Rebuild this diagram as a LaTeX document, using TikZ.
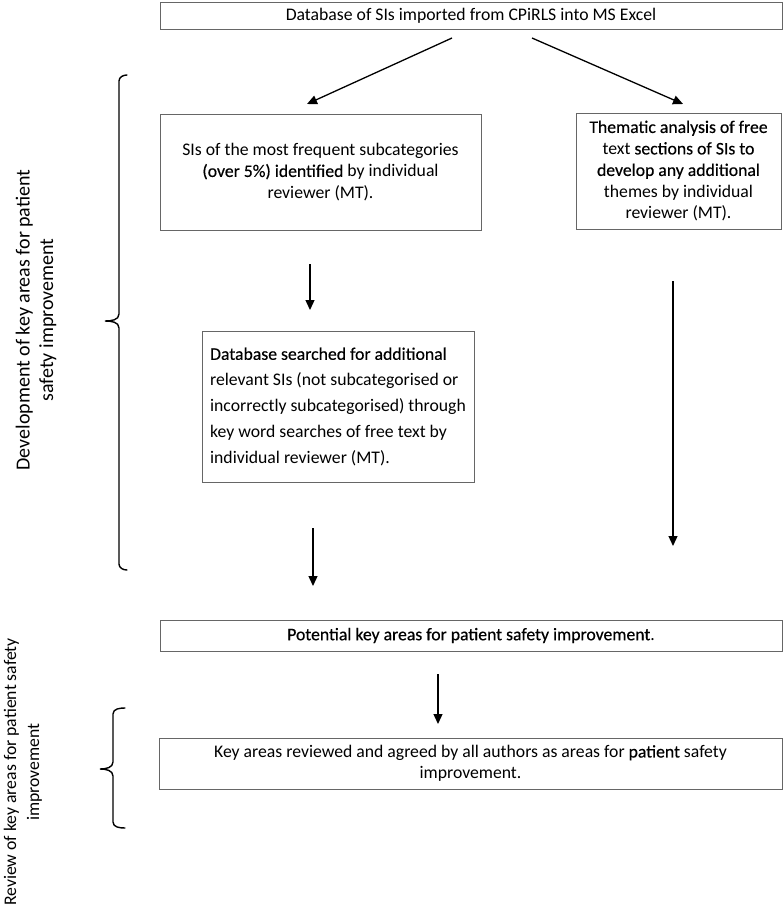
\documentclass[tikz,border=0pt]{standalone}
\usepackage{fontspec}
\setmainfont{Carlito}
\newfontfamily\semib[FakeBold=0.4]{Carlito}
\usepackage{tikz}
\usetikzlibrary{arrows.meta,positioning,calc}

\begin{document}
\begin{tikzpicture}[x=1pt,y=-1pt,>=Stealth,
  box/.style={draw=black!60,line width=1pt,align=center,inner sep=0pt,
    font=\fontsize{17.7}{21.5}\selectfont},
  flow/.style={->,line width=1.3pt,>={Triangle[length=10pt,width=9pt]}},
  brace/.style={line width=1.4pt,line cap=round},
  sidelab/.style={rotate=90,align=center,font=\fontsize{17.7}{23}\selectfont}]
\useasboundingbox (0,0) rectangle (784,908);

% boxes
\node[box,minimum width=622,minimum height=27] (db) at (471,15.5)
  {Database of SIs imported from CPiRLS into MS Excel};
\node[box,minimum width=321,minimum height=116] (freq) at (320.5,172)
  {SIs of the most frequent subcategories\\{\semib(over 5\%) identified} by individual\\reviewer (MT).};
\node[box,minimum width=205,minimum height=116] (theme) at (678.5,171)
  {{\semib Thematic analysis of free}\\text {\semib sections of SIs to}\\{\semib develop any additional}\\themes by individual\\reviewer (MT).};
\node[box,minimum width=272,minimum height=151,align=left,
  font=\fontsize{17.7}{25.8}\selectfont] (search) at (338,406.5)
  {{\semib Database searched for additional}\\relevant SIs (not subcategorised or\\incorrectly subcategorised) through\\key word searches of free text by\\individual reviewer (MT).};
\node[box,minimum width=622,minimum height=31] (pot) at (471,635.5)
  {{\semib Potential key areas for patient safety improvement}.};
\node[box,minimum width=623,minimum height=51] (agree) at (470.5,763.5)
  {Key areas reviewed and agreed by all authors as areas for {\semib patient} safety\\improvement.};

% connectors
\coordinate (s1) at (452,38);
\coordinate (s2) at (532,38);
\coordinate (t1) at (307,104);
\coordinate (t2) at (683,104);
\draw[flow] (s1) -- (t1);
\draw[flow] (s2) -- (t2);
\draw[flow] (310,264) -- (310,310);
\draw[flow] (673,281) -- (673,546);
\draw[flow] (313,528) -- (313,586);
\draw[flow] (438,674) -- (438,724);

% braces and side labels
\draw[brace] (127,75) to[out=180,in=90] (119,81) -- (119,314)
  to[out=-90,in=0] (105,321) to[out=0,in=90] (119,328) -- (119,564)
  to[out=-90,in=180] (127,570);
\draw[brace] (125,708) to[out=180,in=90] (113,714) -- (113,762)
  to[out=-90,in=0] (100,769) to[out=0,in=90] (113,776) -- (113,822)
  to[out=-90,in=180] (125,828);
\node[sidelab,font=\fontsize{20}{23.5}\selectfont] (devlab) at (36,320)
  {Development of key areas for patient\\safety improvement};
\node[sidelab] (revlab) at (23,772)
  {Review of key areas for patient safety\\improvement};
\end{tikzpicture}
\end{document}
